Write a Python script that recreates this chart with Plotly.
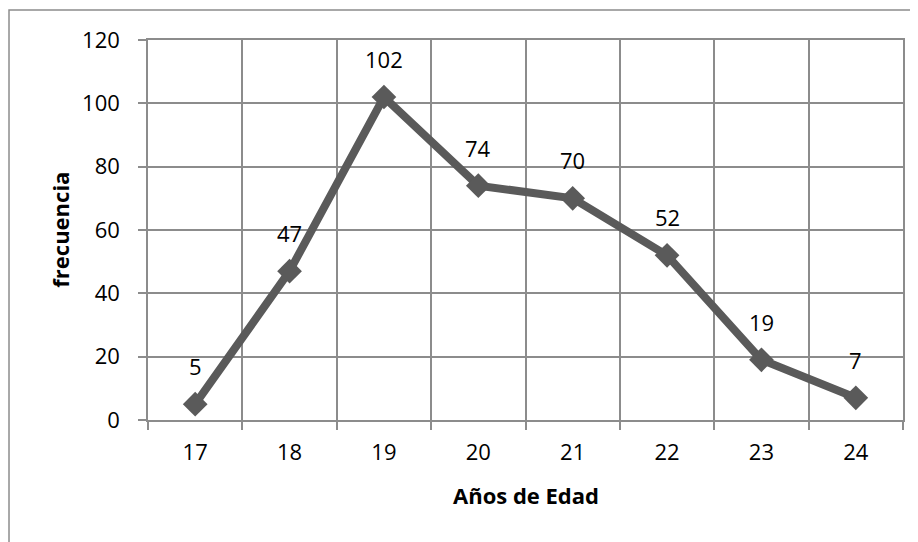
import plotly.graph_objects as go

edades = ["17", "18", "19", "20", "21", "22", "23", "24"]
frecuencia = [5, 47, 102, 74, 70, 52, 19, 7]
y_ticks = [0, 20, 40, 60, 80, 100, 120]

GRID = "#8c8c8c"
SERIE = "#5a5a5a"
FONT = "Open Sans, DejaVu Sans, sans-serif"

fig = go.Figure(go.Scatter(
    x=edades, y=frecuencia, mode="lines+markers",
    line=dict(color=SERIE, width=8),
    marker=dict(symbol="diamond", size=19, color=SERIE),
    hoverinfo="skip",
))

# etiquetas de datos sobre cada punto (x como indice de categoria)
for i, f in enumerate(frecuencia):
    fig.add_annotation(x=i, y=f, text=str(f), showarrow=False, yshift=38,
                       font=dict(size=22, color="black", family=FONT))

# la pagina tiene 8px de margen en el body: se compensa en los margenes
fig.update_layout(
    width=918, height=542,
    margin=dict(l=140, r=23, t=32, b=130),
    paper_bgcolor="white", plot_bgcolor="white",
    showlegend=False,
    font=dict(family=FONT, size=22, color="black"),
    xaxis=dict(type="category", tickson="boundaries", showgrid=True,
               gridcolor=GRID, gridwidth=1.5, showline=True, linecolor=GRID,
               linewidth=1.5, mirror=True, ticks="outside", ticklen=8,
               tickcolor=GRID, tickwidth=1.5, ticklabelstandoff=12,
               range=[-0.5, 7.5]),
    yaxis=dict(range=[0, 120], tickvals=y_ticks, showgrid=True,
               gridcolor=GRID, gridwidth=1.5, showline=True, linecolor=GRID,
               linewidth=1.5, mirror=True, ticks="outside", ticklen=8,
               tickcolor=GRID, tickwidth=1.5, ticklabelstandoff=14,
               zeroline=False),
)

# titulos de ejes
fig.add_annotation(text="<b>Años de Edad</b>", xref="paper", yref="paper",
                   x=0.5, y=-0.197, showarrow=False, yanchor="middle",
                   font=dict(size=22, color="black", family=FONT))
fig.add_annotation(text="<b>frecuencia</b>", xref="paper", yref="paper",
                   x=-0.117, y=0.5, textangle=-90, showarrow=False,
                   xanchor="center", font=dict(size=22, color="black", family=FONT))

# borde exterior del grafico
fig.add_shape(type="rect", xref="paper", yref="paper",
              x0=-0.1841, y0=-0.4, x1=1.05, y1=1.0789,
              line=dict(color=GRID, width=1.5))

fig.write_html("out.html")
